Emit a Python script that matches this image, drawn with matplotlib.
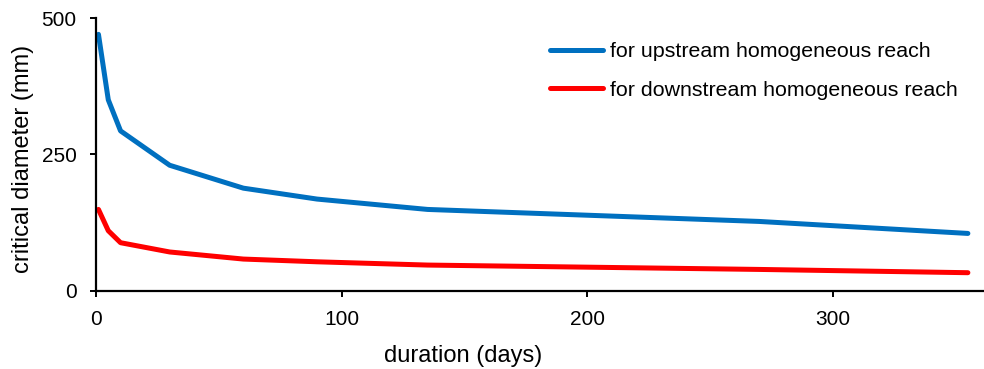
import matplotlib.pyplot as plt

plt.rcParams['font.family'] = ['Liberation Sans', 'DejaVu Sans']

days_up = [1, 5, 10, 30, 60, 90, 135, 270, 355]
diam_up = [470, 350, 293, 230, 188, 168, 149, 127, 105]
days_down = [1, 5, 10, 30, 60, 90, 135, 270, 355]
diam_down = [149, 110, 88, 71, 58, 53, 47, 39, 33]
label_up = 'for upstream homogeneous reach'
label_down = 'for downstream homogeneous reach'
xticks = [0, 100, 200, 300]
yticks = [0, 250, 500]

fs = 15

fig = plt.figure(figsize=(9.84, 3.69), dpi=100)
ax = fig.add_axes([96 / 984, 1 - 290.7 / 369, 1 - 96 / 984, (290.7 - 18) / 369])

ax.plot(days_up, diam_up, color='#0070c0', lw=3.6, solid_capstyle='round',
        solid_joinstyle='round', label=label_up)
ax.plot(days_down, diam_down, color='#ff0000', lw=3.6, solid_capstyle='round',
        solid_joinstyle='round', label=label_down)

ax.set_xlim(0, (984 - 96) / 2.456)
ax.set_ylim(0, 500)
ax.set_xticks(xticks)
ax.set_yticks(yticks)
for s in ['top', 'right']:
    ax.spines[s].set_visible(False)
for s in ['left', 'bottom']:
    ax.spines[s].set_linewidth(1.6)
ax.tick_params(direction='out', length=4, width=1.4, labelsize=fs)
ax.tick_params(axis='x', pad=10)
ax.tick_params(axis='y', pad=10)

ax.set_ylabel('critical diameter (mm)', fontsize=17)
ax.yaxis.set_label_coords(-(96 - 34) / 888, 0.5 - 5 / 272.7)
fig.text(463 / 984, 1 - 356 / 369, 'duration (days)', fontsize=17,
         ha='center', va='center')

ax.legend(loc='upper left', bbox_to_anchor=(550 / 984, 1 - 42 / 369),
          bbox_transform=fig.transFigure, frameon=False, fontsize=15.4,
          handlelength=2.5, handletextpad=0.3, labelspacing=0.92,
          borderaxespad=0, borderpad=0)

fig.savefig('out.png', dpi=100)
